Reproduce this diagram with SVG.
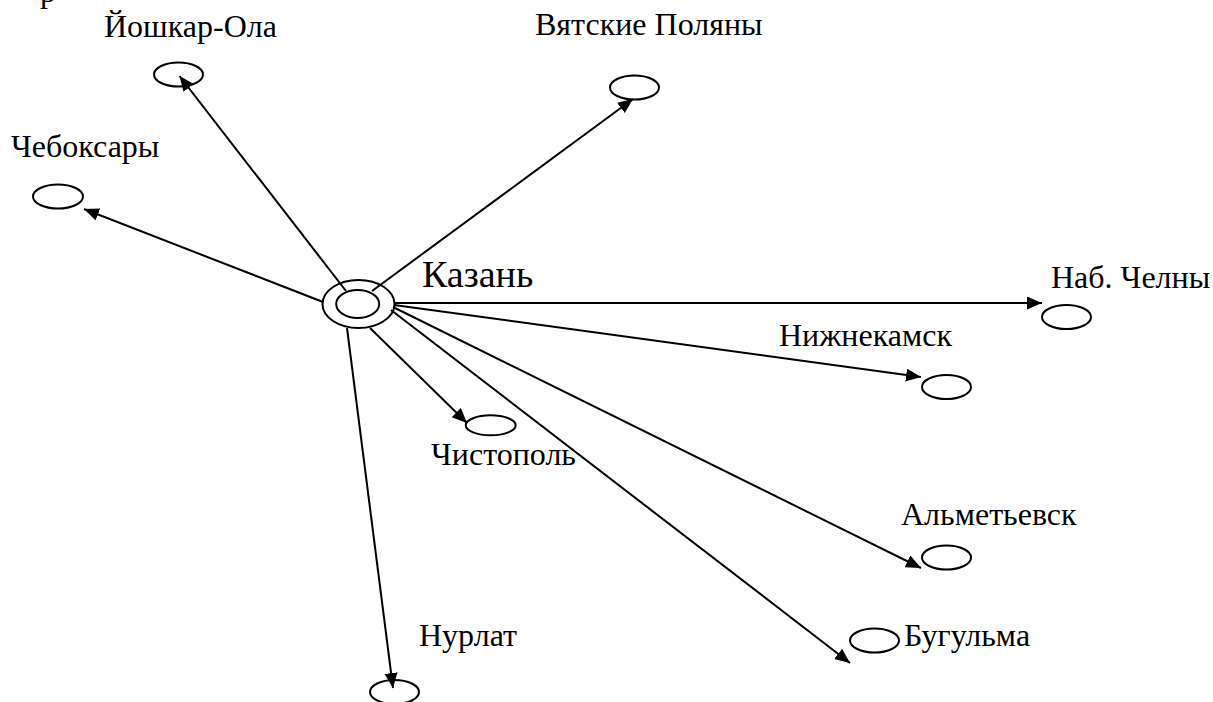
<svg xmlns="http://www.w3.org/2000/svg" width="1213" height="702" viewBox="0 0 1213 702">
<style>
.n{fill:none;stroke:#000;stroke-width:2}
.e{stroke:#000;stroke-width:2;fill:none}
.t{font-family:'Liberation Serif','Times New Roman',serif;font-size:32px;fill:#000}
.big{font-size:38px}
</style>
<defs>
<marker id="ah" markerUnits="userSpaceOnUse" markerWidth="17" markerHeight="14" refX="15" refY="6.5" orient="auto">
<path d="M0,0 L15,6.5 L0,13 z" fill="#000"/>
</marker>
</defs>
<rect width="1213" height="702" fill="#fff"/>
<text class="t" x="40" y="2">р</text>
<g id="connectors">
<line class="e" x1="346" y1="291" x2="179.5" y2="76" marker-end="url(#ah)"/>
<line class="e" x1="372" y1="291" x2="633" y2="99" marker-end="url(#ah)"/>
<line class="e" x1="323" y1="302" x2="84" y2="209" marker-end="url(#ah)"/>
<line class="e" x1="394" y1="303" x2="1042" y2="303" marker-end="url(#ah)"/>
<line class="e" x1="394" y1="305" x2="921" y2="377" marker-end="url(#ah)"/>
<line class="e" x1="393" y1="307" x2="921" y2="568" marker-end="url(#ah)"/>
<line class="e" x1="391" y1="310" x2="850" y2="663" marker-end="url(#ah)"/>
<line class="e" x1="370" y1="328" x2="467" y2="423" marker-end="url(#ah)"/>
<line class="e" x1="347" y1="328" x2="393" y2="688" marker-end="url(#ah)"/>
</g>
<g id="kazan">
<ellipse class="n" cx="358.5" cy="304" rx="36" ry="24"/>
<ellipse class="n" cx="357.7" cy="304" rx="21.5" ry="14"/>
<text class="t big" x="422" y="287">Казань</text>
</g>
<g id="yoshkar-ola">
<ellipse class="n" cx="178.5" cy="74.5" rx="24.5" ry="12"/>
<text class="t" x="104" y="37">Йошкар-Ола</text>
</g>
<g id="vyatskie-polyany">
<ellipse class="n" cx="634.5" cy="87.5" rx="24.5" ry="12"/>
<text class="t" x="535" y="35">Вятские Поляны</text>
</g>
<g id="cheboksary">
<ellipse class="n" cx="58" cy="196.5" rx="25" ry="12"/>
<text class="t" x="11" y="157">Чебоксары</text>
</g>
<g id="nab-chelny">
<ellipse class="n" cx="1066.5" cy="317" rx="24.5" ry="12"/>
<text class="t" x="1051" y="288">Наб. Челны</text>
</g>
<g id="nizhnekamsk">
<ellipse class="n" cx="946.5" cy="387" rx="24.5" ry="12"/>
<text class="t" x="779" y="346">Нижнекамск</text>
</g>
<g id="chistopol">
<ellipse class="n" cx="490.7" cy="425.3" rx="25" ry="10"/>
<text class="t" x="431" y="465">Чистополь</text>
</g>
<g id="almetyevsk">
<ellipse class="n" cx="946.5" cy="557.5" rx="24.5" ry="12"/>
<text class="t" x="901" y="525">Альметьевск</text>
</g>
<g id="bugulma">
<ellipse class="n" cx="874.5" cy="640.5" rx="24.5" ry="12"/>
<text class="t" x="904" y="646">Бугульма</text>
</g>
<g id="nurlat">
<ellipse class="n" cx="394.5" cy="692" rx="24.5" ry="12"/>
<text class="t" x="419" y="646">Нурлат</text>
</g>
</svg>
